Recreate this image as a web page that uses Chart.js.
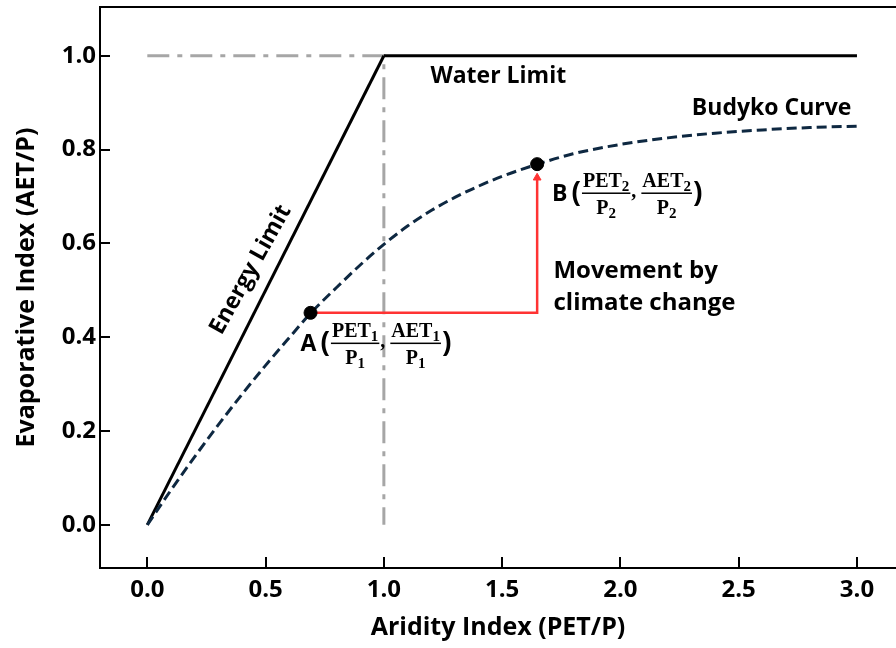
<!DOCTYPE html>
<html>
<head>
<meta charset="utf-8">
<script src="https://cdn.jsdelivr.net/npm/chart.js@4.4.1/dist/chart.umd.min.js"></script>
<style>
  html, body { margin: 0; padding: 0; background: #fff; overflow: hidden; }
  #wrap { width: 896px; height: 648px; }
</style>
</head>
<body>
<div id="wrap"><canvas id="chart" width="896" height="648"></canvas></div>
<script>
// Axis ticks
const xTicks = [0, 0.5, 1.0, 1.5, 2.0, 2.5, 3.0];
const yTicks = [0, 0.2, 0.4, 0.6, 0.8, 1.0];

// Budyko curve
const budykoX = [0, 0.1, 0.2, 0.3, 0.4, 0.5, 0.6, 0.69, 0.8, 0.9, 1.0, 1.1, 1.2, 1.3, 1.4, 1.5, 1.65, 1.8, 2.0, 2.2, 2.4, 2.6, 2.8, 3.0];
const budykoY = [0, 0.074, 0.145, 0.213, 0.278, 0.34, 0.399, 0.451, 0.506, 0.554, 0.598, 0.637, 0.67, 0.698, 0.722, 0.743, 0.769, 0.791, 0.811, 0.825, 0.835, 0.842, 0.847, 0.85];

// Limits
const energyX = [0, 1];
const energyY = [0, 1];
const waterX = [1, 3];
const waterY = [1, 1];

// Gray reference (dash-dot) path
const refX = [0, 1, 1];
const refY = [1, 1, 0];

// States A and B, and the red movement path
const pointA = [0.69, 0.452];
const pointB = [1.648, 0.769];
const moveX = [0.69, 1.648, 1.648];
const moveY = [0.452, 0.452, 0.74];

const toXY = (xs, ys) => xs.map((x, i) => ({ x: x, y: ys[i] }));

const SANS = '"Open Sans"';
const SERIF = '"Liberation Serif"';

// Inward tick marks on both axes
const tickMarks = {
  id: 'tickMarks',
  afterDraw(chart) {
    const { ctx, chartArea, scales } = chart;
    ctx.save();
    ctx.strokeStyle = '#000';
    ctx.lineWidth = 2;
    xTicks.forEach(v => {
      const px = Math.round(scales.x.getPixelForValue(v));
      ctx.beginPath();
      ctx.moveTo(px, chartArea.bottom);
      ctx.lineTo(px, chartArea.bottom - 11);
      ctx.stroke();
    });
    yTicks.forEach(v => {
      const py = Math.round(scales.y.getPixelForValue(v));
      ctx.beginPath();
      ctx.moveTo(chartArea.left, py);
      ctx.lineTo(chartArea.left + 10, py);
      ctx.stroke();
    });
    ctx.restore();
  }
};

// fraction like PET_1 / P_1, returns width used
function drawFrac(ctx, x, yLine, num, numSub, den, denSub) {
  const mainF = 'bold 20px ' + SERIF;
  const subF = 'bold 15px ' + SERIF;
  ctx.font = mainF;
  const nw = ctx.measureText(num).width;
  const dw = ctx.measureText(den).width;
  ctx.font = subF;
  const nsw = ctx.measureText(numSub).width;
  const dsw = ctx.measureText(denSub).width;
  const numW = nw + nsw, denW = dw + dsw;
  const w = Math.max(numW, denW) + 2;
  ctx.fillRect(x, yLine - 0.75, w, 1.5);
  const nx = x + (w - numW) / 2;
  ctx.font = mainF;
  ctx.fillText(num, nx, yLine - 6);
  ctx.font = subF;
  ctx.fillText(numSub, nx + nw, yLine - 2);
  const dx = x + (w - denW) / 2;
  ctx.font = mainF;
  ctx.fillText(den, dx, yLine + 21);
  ctx.font = subF;
  ctx.fillText(denSub, dx + dw, yLine + 25);
  return w;
}

function drawStateLabel(ctx, x, yLine, letter, idx) {
  ctx.textBaseline = 'alphabetic';
  ctx.textAlign = 'left';
  ctx.font = 'bold 23px ' + SANS;
  ctx.fillText(letter, x, yLine + 8);
  x += ctx.measureText(letter + ' ').width - 2;
  ctx.font = 'bold 28px ' + SANS;
  ctx.fillText('(', x, yLine + 9);
  x += ctx.measureText('(').width + 1;
  x += drawFrac(ctx, x, yLine, 'PET', idx, 'P', idx) + 1;
  ctx.font = 'bold 20px ' + SERIF;
  ctx.fillText(',', x, yLine + 4);
  x += ctx.measureText(', ').width;
  x += drawFrac(ctx, x, yLine, 'AET', idx, 'P', idx) + 1;
  ctx.font = 'bold 28px ' + SANS;
  ctx.fillText(')', x, yLine + 9);
}

const annotations = {
  id: 'annotations',
  afterDraw(chart) {
    const { ctx, scales } = chart;
    const X = v => scales.x.getPixelForValue(v);
    const Y = v => scales.y.getPixelForValue(v);
    ctx.save();
    ctx.fillStyle = '#000';
    ctx.textAlign = 'left';
    ctx.textBaseline = 'alphabetic';
    ctx.font = 'bold 23px ' + SANS;
    ctx.fillText('Water Limit', X(1.197), Y(0.942));
    ctx.fillText('Budyko Curve', X(2.302), Y(0.874));
    ctx.font = 'bold 24px ' + SANS;
    ctx.fillText('Movement by', X(1.717), Y(0.526));
    ctx.fillText('climate change', X(1.717), Y(0.458));

    ctx.save();
    ctx.translate(X(0.437), Y(0.544));
    ctx.rotate(-61 * Math.PI / 180);
    ctx.textAlign = 'center';
    ctx.textBaseline = 'middle';
    ctx.font = 'bold 23px ' + SANS;
    ctx.fillText('Energy Limit', 0, 0);
    ctx.restore();

    drawStateLabel(ctx, X(0.648), Y(0.387), 'A', '1');
    drawStateLabel(ctx, X(1.711), Y(0.707), 'B', '2');
    ctx.restore();
  }
};

const tickFont = { family: SANS, size: 24, weight: 'bold' };
const titleFont = { family: SANS, size: 25, weight: 'bold' };

new Chart(document.getElementById('chart'), {
  type: 'scatter',
  data: {
    datasets: [
      {
        data: toXY(refX, refY), showLine: true, pointRadius: 0,
        borderColor: '#a6a6a6', borderWidth: 3, borderDash: [22, 8, 5, 8], order: 6
      },
      {
        data: toXY(energyX, energyY), showLine: true, pointRadius: 0,
        borderColor: '#000', borderWidth: 3, order: 5
      },
      {
        data: toXY(waterX, waterY), showLine: true, pointRadius: 0,
        borderColor: '#000', borderWidth: 3, order: 5
      },
      {
        data: toXY(budykoX, budykoY), showLine: true, pointRadius: 0,
        borderColor: '#0e2841', borderWidth: 3, borderDash: [10, 5],
        cubicInterpolationMode: 'monotone', order: 4
      },
      {
        data: toXY(moveX, moveY), showLine: true, pointRadius: 0,
        borderColor: '#ff3333', borderWidth: 2.5, order: 3
      },
      {
        data: [{ x: moveX[2], y: moveY[2] }], pointStyle: 'triangle', pointRadius: 4.5,
        backgroundColor: '#ff3333', borderColor: '#ff3333', borderWidth: 1, order: 2
      },
      {
        data: [{ x: pointA[0], y: pointA[1] }, { x: pointB[0], y: pointB[1] }],
        pointRadius: 6.5, backgroundColor: '#000', borderColor: '#000', order: 1
      }
    ]
  },
  options: {
    responsive: false,
    animation: false,
    layout: { autoPadding: false, padding: { top: 7, left: 0, right: 0, bottom: 0 } },
    plugins: { legend: { display: false }, tooltip: { enabled: false } },
    scales: {
      x: {
        type: 'linear', position: 'bottom', min: -0.2, max: 3.165,
        afterBuildTicks: s => { s.ticks = xTicks.map(v => ({ value: v })); },
        afterFit: s => { s.height = 80; s.paddingLeft = 0; s.paddingRight = 0; },
        grid: { display: false, drawTicks: false },
        border: { display: true, color: '#000', width: 2 },
        ticks: { color: '#000', font: tickFont, padding: 8, callback: v => v.toFixed(1) },
        title: { display: true, text: 'Aridity Index (PET/P)', color: '#000', font: titleFont, padding: { top: 0, bottom: 5 } }
      },
      xTop: {
        type: 'linear', position: 'top', min: -0.2, max: 3.165,
        afterFit: s => { s.height = 0; s.paddingLeft = 0; s.paddingRight = 0; },
        grid: { display: false, drawTicks: false },
        border: { display: true, color: '#000', width: 2 },
        ticks: { display: false }
      },
      y: {
        type: 'linear', position: 'left', min: -0.092, max: 1.104,
        afterBuildTicks: s => { s.ticks = yTicks.map(v => ({ value: v })); },
        afterFit: s => { s.width = 100; s.paddingTop = 0; s.paddingBottom = 0; },
        grid: { display: false, drawTicks: false },
        border: { display: true, color: '#000', width: 2 },
        ticks: { color: '#000', font: tickFont, padding: 4, callback: v => v.toFixed(1) },
        title: { display: true, text: 'Evaporative Index (AET/P)', color: '#000', font: titleFont, padding: { top: 12, bottom: 0 } }
      }
    }
  },
  plugins: [tickMarks, annotations]
});
</script>
</body>
</html>
